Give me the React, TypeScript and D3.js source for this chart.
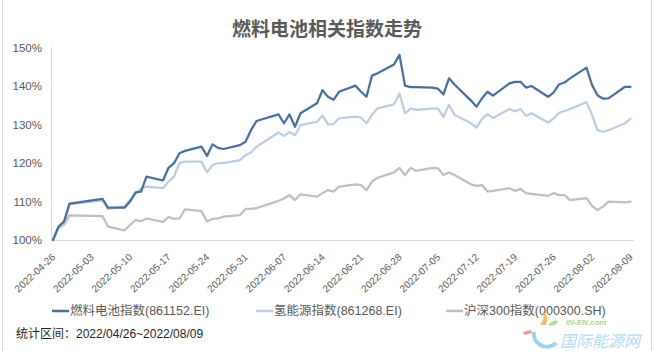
import React from "react";
import * as d3 from "d3";

const dates = [
  "2022-04-26","2022-04-27","2022-04-28","2022-04-29",
  "2022-05-05","2022-05-06","2022-05-09","2022-05-10","2022-05-11","2022-05-12","2022-05-13",
  "2022-05-16","2022-05-17","2022-05-18","2022-05-19","2022-05-20",
  "2022-05-23","2022-05-24","2022-05-25","2022-05-26","2022-05-27",
  "2022-05-30","2022-05-31","2022-06-01","2022-06-02",
  "2022-06-06","2022-06-07","2022-06-08","2022-06-09","2022-06-10",
  "2022-06-13","2022-06-14","2022-06-15","2022-06-16","2022-06-17",
  "2022-06-20","2022-06-21","2022-06-22","2022-06-23","2022-06-24",
  "2022-06-27","2022-06-28","2022-06-29","2022-06-30","2022-07-01",
  "2022-07-04","2022-07-05","2022-07-06","2022-07-07","2022-07-08",
  "2022-07-11","2022-07-12","2022-07-13","2022-07-14","2022-07-15",
  "2022-07-18","2022-07-19","2022-07-20","2022-07-21","2022-07-22",
  "2022-07-25","2022-07-26","2022-07-27","2022-07-28","2022-07-29",
  "2022-08-01","2022-08-02","2022-08-03","2022-08-04","2022-08-05",
  "2022-08-08","2022-08-09",
];

const fuelCell = [
  100, 103.5, 104.8, 109.5,
  110.7, 108.4, 108.4, 110, 112.4, 112.6, 116.5,
  115.5, 118.8, 120, 122.6, 123.2,
  124.3, 121.9, 124.9, 124, 123.7,
  124.7, 125.6, 128.6, 131,
  132.7, 130.4, 132.7, 129.5, 133,
  135.6, 139, 137.3, 136.5, 138.6,
  140.2, 138.6, 137.3, 142.8, 143.4,
  145.7, 148.2, 140.2, 139.8, 139.8,
  139.7, 139.4, 137.9, 142.1, 140.5,
  136.3, 134.7, 136.9, 138.6, 137.6,
  140.8, 141.2, 141.2, 139.7, 140.1,
  137.3, 138.4, 140.5, 141, 142.1,
  144.9, 140.4, 137.7, 136.8, 136.9,
  139.9, 139.9,
];

const hydrogen = [
  100, 103, 104, 109.3,
  110.3, 108.1, 108.7, 110.5, 112, 113.3, 113.9,
  113.5, 115.2, 116.5, 120, 120.4,
  120.4, 117.6, 119.5, 120, 120,
  120.8, 122.1, 122.8, 124.3,
  128, 127.1, 128.1, 127.3, 129.9,
  130.8, 132.4, 130.1, 130.2, 131.7,
  132.1, 131.9, 130.4, 132.6, 134.3,
  135.3, 138.2, 133, 134.2, 133.9,
  134.2, 134.2, 132.1, 135.2, 132.6,
  130.4, 129.3, 131.5, 132.8, 131.8,
  134.1, 133.5, 134.1, 132.3, 133,
  130.6, 131.6, 133.1, 133.6, 134.1,
  135.9, 132.6, 128.6, 128.2, 128.6,
  130.4, 131.6,
];

const hs300 = [
  100, 103.3, 103.9, 106.4,
  106.2, 103.5, 102.5, 103.9, 105.2, 104.9, 105.6,
  104.7, 106, 105.5, 105.6, 108,
  107.5, 104.8, 105.5, 105.6, 106.1,
  106.5, 108.1, 108.1, 108.3,
  110.2, 110.8, 111.7, 110.4, 111.9,
  111.3, 112.2, 113, 112.6, 113.9,
  114.5, 114.3, 113, 115.2, 116.2,
  117.6, 118.8, 116.9, 118.8, 118,
  118.8, 118.7, 116.9, 117.6, 116.9,
  114.5, 114.1, 114.3, 112.6, 112.8,
  113.5, 112.8, 113.3, 112.2, 112,
  111.5, 112.2, 111.7, 111.7, 110.4,
  110.9, 108.9, 107.8, 108.7, 110,
  109.8, 110,
];

const yTicks = [100, 110, 120, 130, 140, 150];
const xTickLabels = [
  "2022-04-26","2022-05-03","2022-05-10","2022-05-17","2022-05-24","2022-05-31",
  "2022-06-07","2022-06-14","2022-06-21","2022-06-28","2022-07-05","2022-07-12",
  "2022-07-19","2022-07-26","2022-08-02","2022-08-09",
];
const seriesNames = ["燃料电池指数(861152.EI)", "氢能源指数(861268.EI)", "沪深300指数(000300.SH)"];
const title = "燃料电池相关指数走势";
const footnote = "统计区间：2022/04/26~2022/08/09";

const W = 655;
const H = 351;
const colors = ["#4b6f9b", "#bccde3", "#bfbfbf"];

export default function App() {
  const parse = d3.utcParse("%Y-%m-%d");
  const xDates = dates.map((d) => parse(d) as Date);
  const x = d3
    .scaleUtc()
    .domain([parse("2022-04-26") as Date, parse("2022-08-09") as Date])
    .range([53, 630.5]);
  const y = d3.scaleLinear().domain([100, 150]).range([240, 48]);
  const line = d3
    .line<number>()
    .x((_, i) => x(xDates[i]))
    .y((v) => y(v));
  const allSeries = [hs300, hydrogen, fuelCell];
  const allColors = [colors[2], colors[1], colors[0]];
  const legendX = [52, 256, 446];
  const font = "'Liberation Sans', 'Noto Sans CJK SC', sans-serif";

  return (
    <svg
      width={W}
      height={H}
      style={{ position: "absolute", left: 0, top: 0, background: "#fff" }}
      fontFamily={font}
    >
      <rect x={0} y={0} width={W} height={H} fill="#fff" />
      <line x1={2.5} x2={2.5} y1={0} y2={H} stroke="#d9d9d9" />
      <line x1={651.5} x2={651.5} y1={0} y2={H} stroke="#d9d9d9" />
      <text
        x={327}
        y={36}
        textAnchor="middle"
        fontSize={19}
        fontWeight="bold"
        fill="#595959"
        fontFamily="'Noto Sans CJK SC', sans-serif"
      >
        {title}
      </text>
      {yTicks.map((t) => (
        <text key={t} x={42} y={y(t)} dy="0.35em" textAnchor="end" fontSize={11.5} fill="#595959">
          {t}%
        </text>
      ))}
      <line x1={51.5} x2={51.5} y1={47} y2={240} stroke="#d9d9d9" />
      <line x1={51.5} x2={634} y1={240.5} y2={240.5} stroke="#d9d9d9" />
      {xTickLabels.map((lab) => {
        const tx = x(parse(lab) as Date) + 3;
        const ty = 258;
        return (
          <text
            key={lab}
            x={tx}
            y={ty}
            textAnchor="end"
            fontSize={10}
            fill="#595959"
            transform={`rotate(-43 ${tx} ${ty})`}
          >
            {lab}
          </text>
        );
      })}
      {allSeries.map((s, i) => (
        <path
          key={i}
          d={line(s) || ""}
          fill="none"
          stroke={allColors[i]}
          strokeWidth={2.25}
          strokeLinejoin="round"
          strokeLinecap="round"
        />
      ))}
      {seriesNames.map((n, i) => (
        <g key={n}>
          <line x1={legendX[i]} x2={legendX[i] + 17} y1={311} y2={311} stroke={colors[i]} strokeWidth={2.5} />
          <text x={legendX[i] + 18} y={311} dy="0.35em" fontSize={12.5} fill="#595959">
            {n}
          </text>
        </g>
      ))}
      <text x={16} y={334} dy="0.35em" fontSize={12} fill="#262626">
        {footnote}
      </text>
      <g opacity={0.85}>
        <path d="M 534 332 A 13 13 0 0 0 556 343" fill="none" stroke="#8fcbe8" strokeWidth={4} />
        <path d="M 540 325 q 6 -8 2 -14 q 8 4 4 14 z" fill="#f3b14a" />
        <path d="M 548 325 q 6 -6 10 -4 q -2 6 -10 4 z" fill="#9fd28a" />
        <path d="M 523 332 l 8 -2 l 1 3 l -8 2 z" fill="#ee8a7a" />
        <text x={566} y={325} fontSize={8} fontStyle="italic" fill="#9fd28a" fontWeight="bold">
          IN-EN.com
        </text>
        <text x={560} y={347} fontSize={16} fontStyle="italic" fill="#a9d5ef" fontFamily="'Noto Sans CJK SC', sans-serif">
          国际能源网
        </text>
      </g>
    </svg>
  );
}
